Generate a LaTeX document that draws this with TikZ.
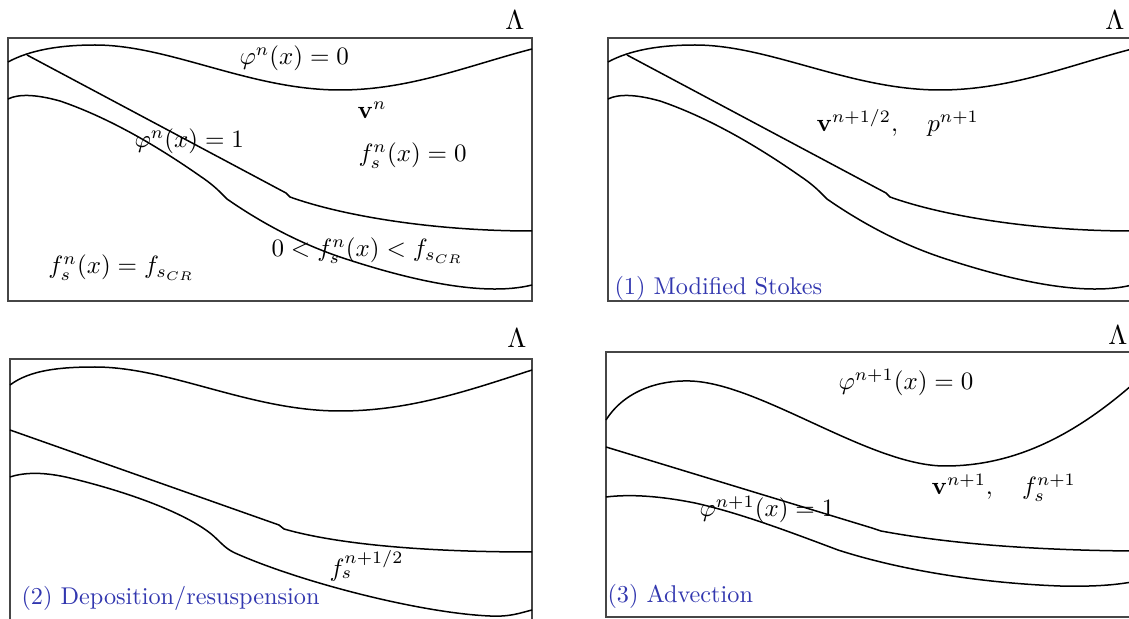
\documentclass[tikz,border=0pt]{standalone}
\definecolor{lblblue}{RGB}{50,55,175}
\definecolor{boxgray}{RGB}{70,70,70}
\begin{document}
\begin{tikzpicture}[x=0.4pt,y=-0.4pt,
  curve/.style={line width=0.6pt, black, line join=round},
  panel/.style={draw=boxgray, line width=1pt},
  mlab/.style={anchor=base west, inner sep=0pt, font=\fontsize{10}{12}\selectfont},
  blab/.style={anchor=base west, inner sep=0pt, text=lblblue, font=\fontsize{9.7}{12}\selectfont},
  lam/.style={anchor=base, inner sep=0pt, font=\fontsize{10.6}{12}\selectfont}]
\useasboundingbox (0,0) rectangle (1129,619);
\path[clip] (0,0) rectangle (1129,619);

% ---------- panels 1 and 2 (same geometry) ----------
\foreach \dx in {0,600}{
\begin{scope}[shift={(\dx,0)}]
  \draw[panel] (8,38) rectangle (532,301);
  \draw[curve] (8,62) .. controls (30,50) and (60,45) .. (95,45)
    .. controls (170,45) and (250,90) .. (340,90)
    .. controls (410,90) and (470,65) .. (532,49);
  \draw[curve] (27,55) -- (286,193) -- (290,197)
    .. controls (340,215) and (430,231) .. (532,231);
  \draw[curve] (8,99) .. controls (18,94) and (35,94) .. (60,101)
    .. controls (110,118) and (160,148) .. (200,176)
    .. controls (212,184) and (218,190) .. (222,194)
    -- (227,199) .. controls (250,215) and (290,240) .. (340,257)
    .. controls (400,277) and (480,298) .. (532,285);
\end{scope}}

\node[lam] (L1) at (515,30) {$\Lambda$};
\node[lam] (L2) at (1115,30) {$\Lambda$};

\node[mlab] (p1a) at (239,65) {$\varphi^n(x) = 0$};
\node[mlab] (p1b) at (357,119) {$\mathbf{v}^n$};
\node[mlab] (p1c) at (358,162) {$f_s^n(x) = 0$};
\node[mlab] (p1d) at (134,148) {$\varphi^n(x) = 1$};
\node[mlab] (p1e) at (48,274) {$f_s^n(x) = f_{s_{CR}}$};
\node[mlab] (p1f) at (271,257) {$0 < f_s^n(x) < f_{s_{CR}}$};

\node[mlab] (p2a) at (816,132) {$\mathbf{v}^{n+1/2},\quad p^{n+1}$};
\node[blab] (p2b) at (614,295) {(1) Modified Stokes};

% ---------- panel 3 ----------
\draw[panel] (10,359) rectangle (532,630);
\draw[curve] (10,385) .. controls (30,370) and (60,367) .. (95,367)
  .. controls (170,367) and (250,411) .. (340,411)
  .. controls (410,411) and (470,390) .. (532,370);
\draw[curve] (10,430) -- (279,525) -- (284,529)
  .. controls (340,545) and (430,552) .. (532,552);
\draw[curve] (10,477) .. controls (25,472) and (45,472) .. (70,478)
  .. controls (120,490) and (180,510) .. (210,533)
  .. controls (220,541) and (224,548) .. (235,553)
  .. controls (300,582) and (420,613) .. (490,616)
  .. controls (510,617) and (520,613) .. (532,610);
\node[lam] (L3) at (517,348) {$\Lambda$};
\node[mlab] (p3a) at (329,576) {$f_s^{n+1/2}$};
\node[blab] (p3b) at (21,604) {(2) Deposition/resuspension};

% ---------- panel 4 ----------
\draw[panel] (606,352) rectangle (1140,617);
\draw[curve] (606,420) .. controls (625,390) and (660,380) .. (690,381)
  .. controls (760,383) and (870,466) .. (945,466)
  .. controls (1020,466) and (1080,430) .. (1132,385);
\draw[curve] (606,447) -- (872,528) -- (881,531)
  .. controls (940,542) and (1020,550) .. (1132,551);
\draw[curve] (606,497) .. controls (630,494) and (660,496) .. (695,503)
  .. controls (740,513) and (790,532) .. (838,550)
  .. controls (900,570) and (980,583) .. (1060,586)
  .. controls (1100,587) and (1120,584) .. (1132,582);
\node[lam] (L4) at (1118,345) {$\Lambda$};
\node[mlab] (p4a) at (838,390) {$\varphi^{n+1}(x) = 0$};
\node[mlab] (p4b) at (931,495) {$\mathbf{v}^{n+1},\quad f_s^{n+1}$};
\node[mlab] (p4c) at (699,517) {$\varphi^{n+1}(x) = 1$};
\node[blab] (p4d) at (607,603) {(3) Advection};
\end{tikzpicture}
\end{document}
